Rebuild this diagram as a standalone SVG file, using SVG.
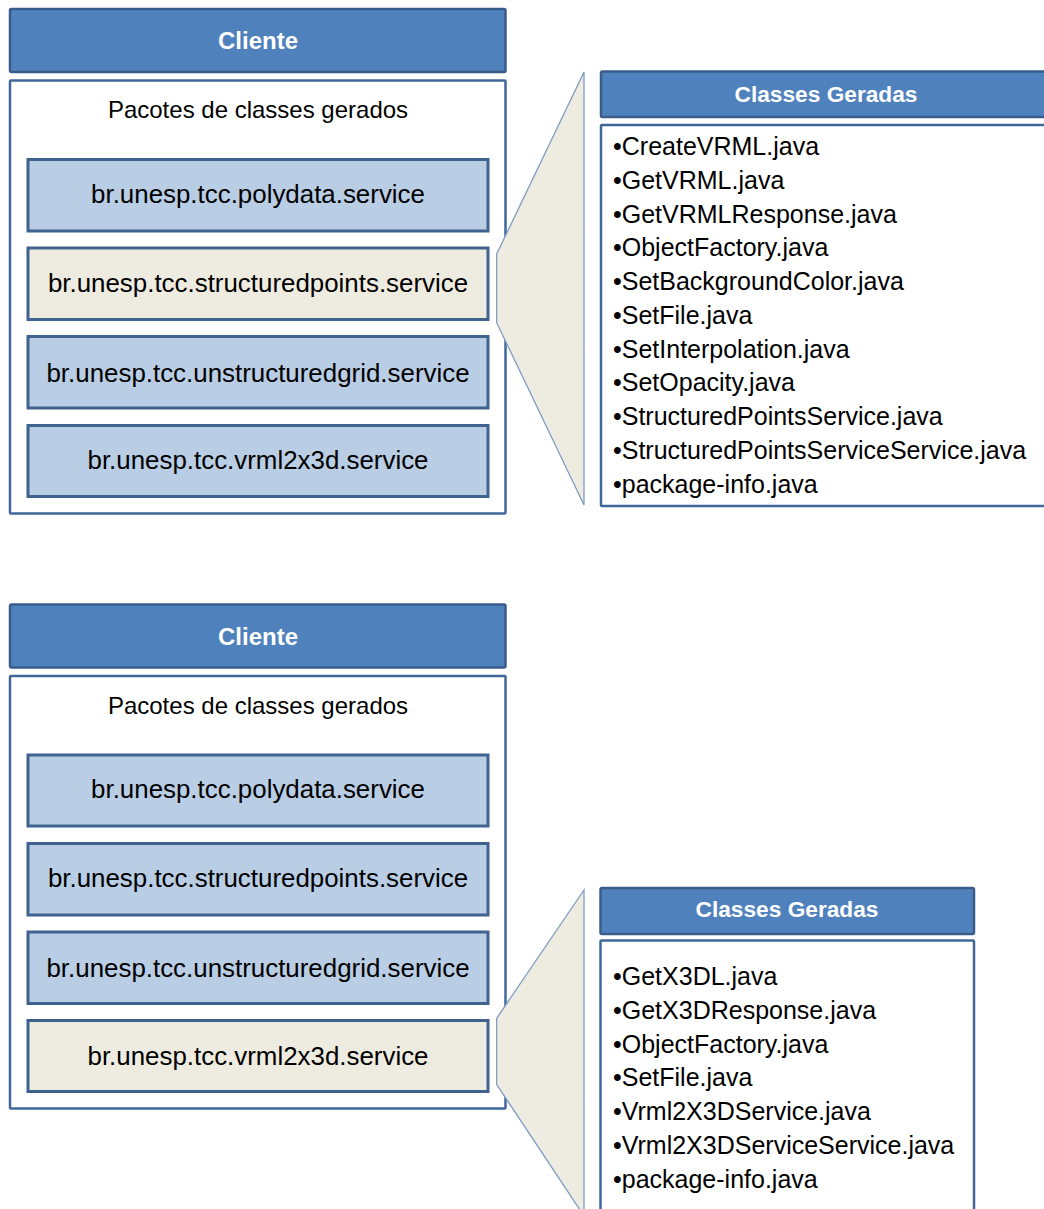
<svg xmlns="http://www.w3.org/2000/svg" width="1044" height="1209" viewBox="0 0 1044 1209">
<style>
  .hdr { fill: #4F81BD; stroke: #385D8A; stroke-width: 2.5; }
  .panel { fill: #FFFFFF; stroke: #40679A; stroke-width: 2.5; }
  .pkg { fill: #B9CDE5; stroke: #3F628F; stroke-width: 3; }
  .pkgsel { fill: #EEECE1; stroke: #3F628F; stroke-width: 3; }
  .wedge { fill: #EEECE1; stroke: #7F9CC5; stroke-width: 1.3; }
  .htxt { font-family: "Liberation Sans", Arial, sans-serif; font-weight: bold; fill: #FFFFFF; text-anchor: middle; }
  .ptxt { font-family: "Liberation Sans", Arial, sans-serif; fill: #000000; text-anchor: middle; font-size: 25.9px; }
  .ttl { font-family: "Liberation Sans", Arial, sans-serif; fill: #000000; text-anchor: middle; font-size: 24px; }
  .ltxt { font-family: "Liberation Sans", Arial, sans-serif; fill: #000000; font-size: 25px; }
</style>
<rect width="1044" height="1209" fill="#FFFFFF"/>

<!-- Top diagram -->
<g id="cliente-header-1">
  <rect class="hdr" x="10" y="9" width="495.5" height="63" rx="1.5"/>
  <text class="htxt" x="258" y="49.3" font-size="24">Cliente</text>
</g>
<g id="pacotes-panel-1">
  <rect class="panel" x="10" y="80.5" width="495.5" height="433" rx="1"/>
  <text class="ttl" x="258" y="118">Pacotes de classes gerados</text>
</g>
<g id="pkg-polydata-1">
  <rect class="pkg" x="28" y="159.5" width="460" height="71.5"/>
  <text class="ptxt" x="258" y="202.7">br.unesp.tcc.polydata.service</text>
</g>
<g id="pkg-structuredpoints-1">
  <rect class="pkgsel" x="28" y="248" width="460" height="71.5"/>
  <text class="ptxt" x="258" y="291.7">br.unesp.tcc.structuredpoints.service</text>
</g>
<g id="pkg-unstructuredgrid-1">
  <rect class="pkg" x="28" y="336.5" width="460" height="71.5"/>
  <text class="ptxt" x="258" y="381.7">br.unesp.tcc.unstructuredgrid.service</text>
</g>
<g id="pkg-vrml2x3d-1">
  <rect class="pkg" x="28" y="425.5" width="460" height="71"/>
  <text class="ptxt" x="258" y="469">br.unesp.tcc.vrml2x3d.service</text>
</g>
<g id="classes-header-1">
  <rect class="hdr" x="601" y="71.5" width="470" height="45.5" rx="1.5"/>
  <text class="htxt" x="826" y="102.3" font-size="22.7">Classes Geradas</text>
</g>
<g id="classes-list-1">
  <rect class="panel" x="601" y="125" width="470" height="381" rx="1"/>
  <text class="ltxt" x="613" y="155">•CreateVRML.java</text>
  <text class="ltxt" x="613" y="188.75">•GetVRML.java</text>
  <text class="ltxt" x="613" y="222.5">•GetVRMLResponse.java</text>
  <text class="ltxt" x="613" y="256.25">•ObjectFactory.java</text>
  <text class="ltxt" x="613" y="290">•SetBackgroundColor.java</text>
  <text class="ltxt" x="613" y="323.75">•SetFile.java</text>
  <text class="ltxt" x="613" y="357.5">•SetInterpolation.java</text>
  <text class="ltxt" x="613" y="391.25">•SetOpacity.java</text>
  <text class="ltxt" x="613" y="425">•StructuredPointsService.java</text>
  <text class="ltxt" x="613" y="458.75">•StructuredPointsServiceService.java</text>
  <text class="ltxt" x="613" y="492.5">•package-info.java</text>
</g>

<!-- Bottom diagram -->
<g id="cliente-header-2">
  <rect class="hdr" x="10" y="604.5" width="495.5" height="63" rx="1.5"/>
  <text class="htxt" x="258" y="644.8" font-size="24">Cliente</text>
</g>
<g id="pacotes-panel-2">
  <rect class="panel" x="10" y="676" width="495.5" height="432.5" rx="1"/>
  <text class="ttl" x="258" y="713.5">Pacotes de classes gerados</text>
</g>
<g id="pkg-polydata-2">
  <rect class="pkg" x="28" y="755" width="460" height="71"/>
  <text class="ptxt" x="258" y="798.2">br.unesp.tcc.polydata.service</text>
</g>
<g id="pkg-structuredpoints-2">
  <rect class="pkg" x="28" y="843.5" width="460" height="71.5"/>
  <text class="ptxt" x="258" y="887.2">br.unesp.tcc.structuredpoints.service</text>
</g>
<g id="pkg-unstructuredgrid-2">
  <rect class="pkg" x="28" y="932" width="460" height="71.5"/>
  <text class="ptxt" x="258" y="977.2">br.unesp.tcc.unstructuredgrid.service</text>
</g>
<g id="pkg-vrml2x3d-2">
  <rect class="pkgsel" x="28" y="1020.5" width="460" height="71"/>
  <text class="ptxt" x="258" y="1064.5">br.unesp.tcc.vrml2x3d.service</text>
</g>
<g id="classes-header-2">
  <rect class="hdr" x="600.5" y="888" width="373.5" height="46" rx="1.5"/>
  <text class="htxt" x="787" y="916.7" font-size="22.7">Classes Geradas</text>
</g>
<g id="classes-list-2">
  <rect class="panel" x="600.5" y="940.5" width="373.5" height="300" rx="1"/>
  <text class="ltxt" x="613" y="985">•GetX3DL.java</text>
  <text class="ltxt" x="613" y="1018.75">•GetX3DResponse.java</text>
  <text class="ltxt" x="613" y="1052.5">•ObjectFactory.java</text>
  <text class="ltxt" x="613" y="1086.25">•SetFile.java</text>
  <text class="ltxt" x="613" y="1120">•Vrml2X3DService.java</text>
  <text class="ltxt" x="613" y="1153.75">•Vrml2X3DServiceService.java</text>
  <text class="ltxt" x="613" y="1187.5">•package-info.java</text>
</g>

<!-- Callout wedges -->
<g id="connectors">
  <polygon class="wedge" points="584,72 584,505 496.7,322.7 496.7,254"/>
  <polygon class="wedge" points="584,890 584,1216 496.7,1084.5 496.7,1018.3"/>
</g>
</svg>
